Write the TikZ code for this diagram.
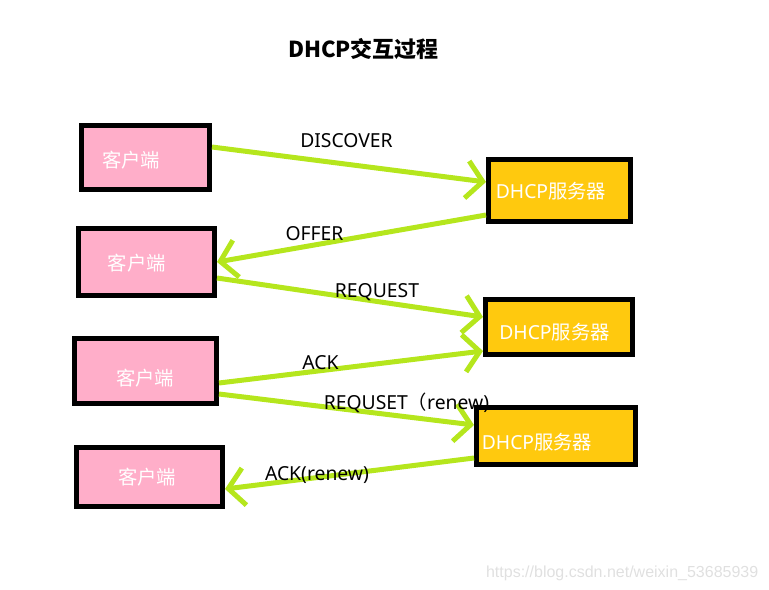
\documentclass[tikz,border=0pt]{standalone}
\usepackage{fontspec}
\setmainfont{Noto Sans}
\newfontfamily\cjk{Noto Sans CJK SC}
\newfontfamily\wmfont{Liberation Sans}
\usetikzlibrary{arrows.meta,calc}
\definecolor{clientpink}{HTML}{FFAEC9}
\definecolor{servergold}{HTML}{FFC90E}
\definecolor{paintlime}{HTML}{B5E61D}

\tikzset{
    box/.style={draw, line width=3.75pt, inner sep=0pt},
    client/.style={box, fill=clientpink},
    server/.style={box, fill=servergold},
    boxtext/.style={text=white, font=\fontsize{14.5}{16}\selectfont},
    link/.style={draw=paintlime, line width=3.75pt, -{Straight Barb[length=12pt,width=28pt]}},
    lbl/.style={anchor=base, font=\fontsize{14.5}{16}\selectfont},
}

\begin{document}
\begin{tikzpicture}[x=0.75pt, y=-0.75pt]
        \useasboundingbox (0,0) rectangle (769,590);
        \node[anchor=base, font=\cjk\bfseries\fontsize{16.5}{18}\selectfont] (title) at (363.5,57) {DHCP交互过程};
        % clients and servers
        \node[client, minimum width=96pt,     minimum height=48pt]    (c1) at (145.5,157.5)
            {}; \node[boxtext] at ($(c1)+(-14.5,2.5)$) {\cjk 客户端};
        \node[server, minimum width=106.5pt,  minimum height=46.5pt]  (s1) at (559.5,190.5)
            {}; \node[boxtext] at ($(s1)+(-8.5,0.5)$) {DHCP{\cjk 服务器}};
        \node[client, minimum width=102pt,    minimum height=50.25pt] (c2) at (146.5,262)
            {}; \node[boxtext] at ($(c2)+(-9.5,1)$) {\cjk 客户端};
        \node[server, minimum width=110.25pt, minimum height=41.25pt] (s2) at (559,327)
            {}; \node[boxtext] at ($(s2)+(-4.5,5)$) {DHCP{\cjk 服务器}};
        \node[client, minimum width=106.5pt,  minimum height=48.75pt] (c3) at (145.5,371)
            {}; \node[boxtext] at ($(c3)+(-0.5,7)$) {\cjk 客户端};
        \node[server, minimum width=119.25pt, minimum height=42.75pt] (s3) at (556,436)
            {}; \node[boxtext] at ($(s3)+(-19,6)$) {DHCP{\cjk 服务器}};
        \node[client, minimum width=109.5pt,  minimum height=44.25pt] (c4) at (149.5,477)
            {}; \node[boxtext] at ($(c4)+(-2.5,0)$) {\cjk 客户端};
        % messages
        \draw[link] ($(c1.east)+(0,-10.5)$) -- ($(s1.west)+(0,-8.5)$);
        \draw[link] ($(s1.west)+(0,24.5)$)  -- (c2.east);
        \draw[link] ($(c2.east)+(0,16)$)    -- ($(s2.west)+(0,-10)$);
        \draw[link] ($(c3.east)+(0,12)$)    -- ($(s2.west)+(0,24)$);
        \draw[link] ($(c3.east)+(0,23)$)    -- ($(s3.west)+(0,-11)$);
        \draw[link] ($(s3.west)+(0,22)$)    -- ($(c4.east)+(0,12)$);
        \node[lbl] (l1) at (346.5,147) {DISCOVER};
        \node[lbl] (l2) at (314.5,240) {OFFER};
        \node[lbl] (l3) at (377,297)   {REQUEST};
        \node[lbl] (l4) at (320.5,369) {ACK};
        \node[lbl] (l5) at (406.5,409) {REQUSET{\cjk （}renew)};
        \node[lbl] (l6) at (317,480)   {ACK(renew)};
        \node[anchor=base east, text=black!12, font=\wmfont\fontsize{12}{14}\selectfont] (wm) at (763,577) {https://blog.csdn.net/weixin\_53685939};
\end{tikzpicture}
\end{document}
